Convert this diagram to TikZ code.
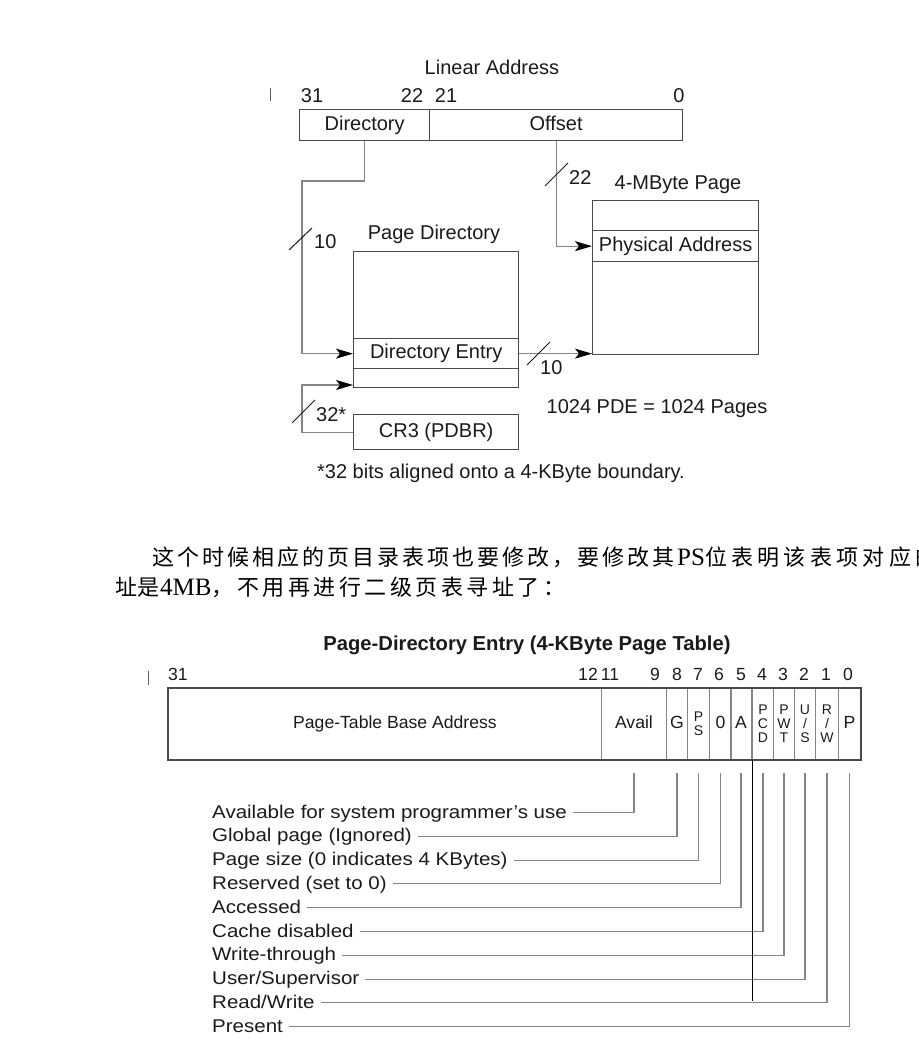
\documentclass[tikz,border=0pt]{standalone}
\usepackage{fontspec}
\usepackage{graphicx}
\setmainfont{Liberation Sans}
\newfontfamily\cjk{Noto Sans CJK SC}
\newfontfamily\latser{Liberation Serif}
\usetikzlibrary{arrows.meta}
\definecolor{linec}{HTML}{858585}
\definecolor{boxc}{HTML}{4A4A4A}
\definecolor{txt}{HTML}{1A1A1A}
\newcommand{\widetext}[1]{\scalebox{1.115}[1]{#1}}
\newlength{\zhpitch}
\makeatletter
\def\zh@end{zhend}
\def\zhspread#1{\zh@loop#1\zh@end}
\def\zh@loop#1{\ifx#1\zh@end\else\makebox[\zhpitch][l]{#1}\expandafter\zh@loop\fi}
\makeatother
\tikzset{
  box/.style={draw=boxc, line width=1.3pt, rectangle, inner sep=0pt, anchor=north west, text=txt},
  cell/.style={draw=linec, line width=0.9pt, rectangle, inner sep=0pt, anchor=north west, text=txt},
  conn/.style={draw=linec, line width=1.2pt},
  arr/.style={conn, -{Stealth[length=17pt,width=10pt,inset=4pt,color=black]}},
  slash/.style={draw=txt, line width=1pt},
  t20/.style={font=\fontsize{20}{24}\selectfont, text=txt, inner sep=0pt, text height=14.5pt, text depth=4.2pt},
  t17/.style={font=\fontsize{17.6}{21}\selectfont, text=txt, inner sep=0pt, text height=12.7pt, text depth=3.7pt},
  bitn/.style={font=\fontsize{17.6}{21}\selectfont, text=txt, inner sep=0pt, text height=12.7pt, text depth=0pt},
  stack/.style={font=\fontsize{14}{14}\selectfont, align=center},
  lbl/.style={font=\fontsize{18.4}{22}\selectfont, text=txt, anchor=west, inner xsep=6pt, inner ysep=0pt, text height=13pt, text depth=2pt},
  lead/.style={draw=linec, line width=1.1pt},
  stray/.style={draw=linec!70!black, line width=0.8pt},
}
\begin{document}
\begin{tikzpicture}[x=1pt,y=-1pt]
\useasboundingbox (0,0) rectangle (918,1048);

% ---------- top diagram ----------
\node[t20] (title1) at (492,69.5) {Linear Address};
\node[bitn,font=\fontsize{20}{24}\selectfont,text height=14.3pt] (b31) at (312,95) {31};
\node[bitn,font=\fontsize{20}{24}\selectfont,text height=14.3pt] (b22) at (412,95) {22};
\node[bitn,font=\fontsize{20}{24}\selectfont,text height=14.3pt] (b21) at (446,95) {21};
\node[bitn,font=\fontsize{20}{24}\selectfont,text height=14.3pt] (b0) at (679,95) {0};
\draw[stray] (270,88) -- (270,101);

\node[box,t20,minimum width=130pt,minimum height=31pt] (dir) at (299,109) {Directory};
\node[box,t20,minimum width=253pt,minimum height=31pt] (off) at (429,109) {Offset};

\node[t20] (pdt) at (434,234) {Page Directory};
\node[box,minimum width=165pt,minimum height=136pt] (pd) at (353,251) {};
\node[box,t20,minimum width=165pt,minimum height=30pt] (pde) at (353,338) {Directory Entry};

\node[t20] (pgt) at (678,184) {4-MByte Page};
\node[box,minimum width=166pt,minimum height=154pt] (pg) at (592,200) {};
\node[box,t20,minimum width=166pt,minimum height=31pt] (pa) at (592,230) {Physical Address};

\node[box,t20,minimum width=165pt,minimum height=35pt] (cr3) at (353,414) {CR3 (PDBR)};
\node[t20] (eq) at (657,408) {1024 PDE = 1024 Pages};
\node[t20] (note) at (501,473) {*32 bits aligned onto a 4-KByte boundary.};

\coordinate (j1) at (302,181);
\draw[arr] (dir.south) |- (j1) |- (pde.west);
\draw[arr] (off.south) |- (pa.west);
\draw[arr] (pde.east) -- (pde.east -| pg.west);
\coordinate (j2) at (302,385);
\draw[arr] (cr3.west) -| (j2) -- (j2 -| pd.west);

\draw[slash] (289,250) -- (312,228);
\node[t20,anchor=west] (n10a) at (314,243) {10};
\draw[slash] (545,186) -- (568,163);
\node[t20,anchor=west] (n22) at (569,179) {22};
\draw[slash] (527,365) -- (550,342);
\node[t20,anchor=west] (n10b) at (540,369) {10};
\draw[slash] (292,423) -- (315,400);
\node[t20,anchor=west] (n32) at (316,416) {32*};

% ---------- Chinese text ----------
\node[anchor=west,inner sep=0pt,text=black] (zh1) at (152,557)
  {\cjk\fontsize{22}{26}\selectfont\setlength{\zhpitch}{25pt}%
   \zhspread{这个时候相应的页目录表项也要修改，要修改其}%
   {\latser\fontsize{25}{28}\selectfont PS}%
   \setlength{\zhpitch}{26.3pt}\zhspread{位表明该表项对应的}};
\node[anchor=west,inner sep=0pt,text=black] (zh2) at (115,587)
  {\cjk\fontsize{22}{26}\selectfont\setlength{\zhpitch}{22.5pt}%
   \zhspread{址是}%
   {\latser\fontsize{25}{28}\selectfont 4MB}%
   \setlength{\zhpitch}{25.5pt}\zhspread{，不用再进行二级页表寻址了：}};

% ---------- bottom diagram ----------
\node[font=\bfseries\fontsize{20.2}{24}\selectfont,text=txt,inner sep=0pt] (pdet) at (527,645) {Page-Directory Entry (4-KByte Page Table)};
\draw[stray] (148,671) -- (148,685);
\foreach \n/\x in {31/178,12/588,11/610,9/655,8/677,7/698,6/719,5/741,4/762,3/783,2/804,1/826,0/848}
  \node[bitn] (bit\n) at (\x,674) {\n};

\node[cell,t17,minimum width=433pt,minimum height=71pt] (base) at (168,688) {\hspace*{20pt}Page-Table Base Address};
\node[cell,t17,minimum width=65pt,minimum height=71pt] (avail) at (601,688) {Avail};
\node[cell,t17,minimum width=21pt,minimum height=71pt] (g) at (666,688) {G};
\node[cell,stack,minimum width=22pt,minimum height=71pt] (ps) at (687,688) {P\\S};
\node[cell,t17,minimum width=22pt,minimum height=71pt] (z) at (709,688) {0};
\node[cell,t17,minimum width=21pt,minimum height=71pt] (a) at (730,688) {A};
\node[cell,stack,minimum width=21pt,minimum height=71pt] (pcd) at (752,688) {P\\C\\D};
\node[cell,stack,minimum width=21pt,minimum height=71pt] (pwt) at (773,688) {P\\W\\T};
\node[cell,stack,minimum width=21pt,minimum height=71pt] (us) at (794,688) {U\\/\\S};
\node[cell,stack,minimum width=23pt,minimum height=71pt] (rw) at (815,688) {R\\/\\W};
\node[cell,t17,minimum width=22pt,minimum height=71pt] (p) at (838,688) {P};
\draw[boxc,line width=1.2pt] (base.north west) rectangle (p.south east);

\node[lbl] (l1) at (206,812.5) {\widetext{Available for system programmer’s use}};
\node[lbl] (l2) at (206,836.3) {\widetext{Global page (Ignored)}};
\node[lbl] (l3) at (206,860.1) {\widetext{Page size (0 indicates 4 KBytes)}};
\node[lbl] (l4) at (206,883.9) {\widetext{Reserved (set to 0)}};
\node[lbl] (l5) at (206,907.7) {\widetext{Accessed}};
\node[lbl] (l6) at (206,931.5) {\widetext{Cache disabled}};
\node[lbl] (l7) at (206,955.3) {\widetext{Write-through}};
\node[lbl] (l8) at (206,979.1) {\widetext{User/Supervisor}};
\node[lbl] (l9) at (206,1002.9) {\widetext{Read/Write}};
\node[lbl] (l10) at (206,1026.7) {\widetext{Present}};

\draw[lead] (l1.east) -| ([yshift=-13pt]avail.south);
\draw[lead] (l2.east) -| ([yshift=-13pt]g.south);
\draw[lead] (l3.east) -| ([yshift=-13pt]ps.south);
\draw[lead] (l4.east) -| ([yshift=-13pt]z.south);
\draw[lead] (l5.east) -| ([yshift=-13pt]a.south);
\draw[lead] (l6.east) -| ([yshift=-13pt]pcd.south);
\draw[lead] (l7.east) -| ([yshift=-13pt]pwt.south);
\draw[lead] (l8.east) -| ([yshift=-13pt]us.south);
\draw[lead] (l9.east) -| ([yshift=-13pt]rw.south);
\draw[lead] (l10.east) -| ([yshift=-13pt]p.south);
\draw[black,line width=0.8pt] (pcd.south west) -- ++(0,241);
\end{tikzpicture}
\end{document}
